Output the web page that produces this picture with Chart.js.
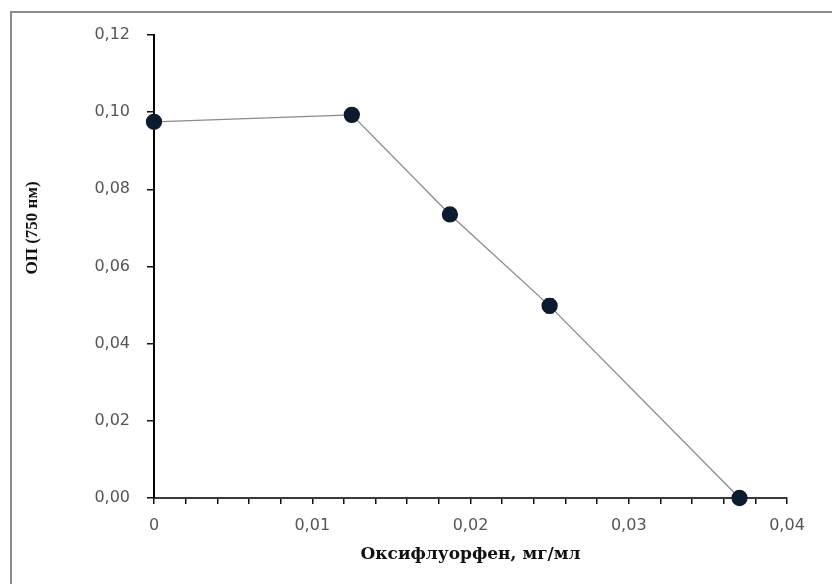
<!DOCTYPE html>
<html>
<head>
<meta charset="utf-8">
<script src="https://cdn.jsdelivr.net/npm/chart.js@4/dist/chart.umd.min.js"></script>
<style>
  html, body { margin: 0; background: #fff; overflow: hidden; }
  #grafico { position: absolute; left: 0; top: 0; }
</style>
</head>
<body>
<canvas id="grafico" width="832" height="584"></canvas>
<script>
// concentration (mg/ml) and optical density values
var doses = [0, 0.0125, 0.0187, 0.025, 0.037];
var odValues = [0.0975, 0.0993, 0.0735, 0.0498, 0.0];
var odErrors = [0.0015, 0.0006, 0.0008, 0.0018, 0.0004];
var xTitle = "Оксифлуорфен, мг/мл";
var yTitle = "ОП (750 нм)";

var points = [];
for (var i = 0; i < doses.length; i++) {
    points.push({ x: doses[i], y: odValues[i] });
}

// gray frame on the left and top of the figure
var framePlugin = {
    id: 'frame',
    beforeDraw: function(chart) {
        var ctx = chart.ctx;
        ctx.save();
        ctx.strokeStyle = '#8c8c8c';
        ctx.lineWidth = 2;
        ctx.beginPath();
        ctx.moveTo(11, chart.height);
        ctx.lineTo(11, 12);
        ctx.lineTo(chart.width, 12);
        ctx.stroke();
        ctx.restore();
    }
};

// error bars, drawn through the chart's scales
var errorBars = {
    id: 'errorBars',
    beforeDatasetsDraw: function(chart) {
        var ctx = chart.ctx;
        var xs = chart.scales.x, ys = chart.scales.y;
        ctx.save();
        ctx.strokeStyle = '#1a1a1a';
        ctx.lineWidth = 1.5;
        for (var i = 0; i < doses.length; i++) {
            var px = xs.getPixelForValue(doses[i]);
            var top = ys.getPixelForValue(odValues[i] + odErrors[i]);
            var bot = ys.getPixelForValue(odValues[i] - odErrors[i]);
            ctx.beginPath();
            ctx.moveTo(px, top); ctx.lineTo(px, bot);
            ctx.moveTo(px - 4, top); ctx.lineTo(px + 4, top);
            ctx.moveTo(px - 4, bot); ctx.lineTo(px + 4, bot);
            ctx.stroke();
        }
        ctx.restore();
    }
};

// y axis title placed like in the original figure
var yTitlePlugin = {
    id: 'yTitle',
    afterDraw: function(chart) {
        var ctx = chart.ctx;
        var ys = chart.scales.y;
        ctx.save();
        ctx.translate(33, ys.getPixelForValue(0.07));
        ctx.rotate(-Math.PI / 2);
        ctx.font = 'bold 17px "Liberation Serif"';
        ctx.fillStyle = '#111';
        ctx.textAlign = 'center';
        ctx.textBaseline = 'middle';
        ctx.fillText(yTitle, 0, 0);
        ctx.restore();
    }
};

var canvas = document.getElementById("grafico");
var graph = new Chart(canvas, {
    type: "scatter",
    data: {
        datasets: [{
            data: points,
            showLine: true,
            clip: false,
            borderColor: "#8a8a8a",
            borderWidth: 1.3,
            backgroundColor: "#0b1b30",
            pointBorderColor: "#0b1b30",
            pointRadius: 7.5,
            pointHoverRadius: 7.5
        }]
    },
    options: {
        responsive: false,
        animation: false,
        layout: { padding: { top: 35, right: 45, left: 0, bottom: 0 } },
        plugins: { legend: { display: false }, tooltip: { enabled: false } },
        scales: {
            x: {
                type: "linear",
                min: 0, max: 0.04,
                afterFit: function(scale) { scale.height = 86; },
                border: { color: "#3a3a3a", width: 2 },
                grid: { drawOnChartArea: false, tickLength: 6, color: "#111", lineWidth: 1.5 },
                ticks: {
                    stepSize: 0.002,
                    autoSkip: false,
                    maxRotation: 0,
                    padding: 12,
                    color: "#555",
                    font: { family: "DejaVu Sans", size: 16 },
                    callback: function(v) {
                        var n = Math.round(v * 1000);
                        if (n % 10 != 0) return "";
                        return n == 0 ? "0" : (v.toFixed(2)).replace(".", ",");
                    }
                },
                title: {
                    display: true,
                    text: xTitle,
                    color: "#111",
                    padding: { top: 0, bottom: 19 },
                    font: { family: "DejaVu Serif", size: 17, weight: "bold" }
                }
            },
            y: {
                min: 0, max: 0.12,
                afterFit: function(scale) { scale.width = 154; },
                border: { color: "#000", width: 2 },
                grid: { drawOnChartArea: false, tickLength: 7, color: "#111", lineWidth: 1.5 },
                ticks: {
                    stepSize: 0.02,
                    padding: 17,
                    color: "#555",
                    font: { family: "DejaVu Sans", size: 16 },
                    callback: function(v) { return v.toFixed(2).replace(".", ","); }
                }
            }
        }
    },
    plugins: [framePlugin, errorBars, yTitlePlugin]
});
</script>
</body>
</html>
